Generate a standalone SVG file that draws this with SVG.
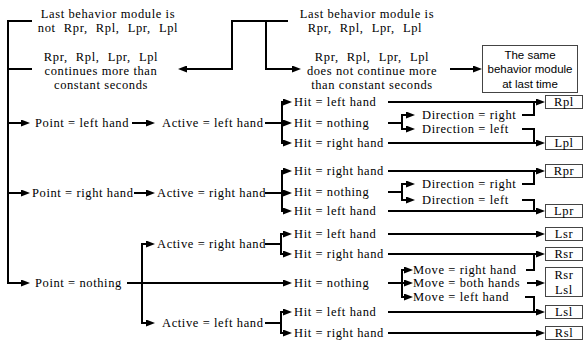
<svg xmlns="http://www.w3.org/2000/svg" width="585" height="349" viewBox="0 0 585 349">
<defs>
<marker id="ah" markerUnits="userSpaceOnUse" markerWidth="9" markerHeight="7" refX="6" refY="3.5" orient="auto-start-reverse"><path d="M0,0 L9,3.5 L0,7 z" fill="#000"/></marker>
</defs>
<style>
.t{font-family:"Liberation Serif","Times New Roman",serif;font-size:12.5px;letter-spacing:0.6px;fill:#000}
.m{text-anchor:middle}
.w{word-spacing:4.5px}
.s{font-family:"Liberation Sans",Arial,sans-serif;font-size:11.5px;fill:#000;text-anchor:middle}
.c{fill:none;stroke:#000;stroke-width:2}
.a{marker-end:url(#ah)}
.d{marker-start:url(#ah);marker-end:url(#ah)}
.b{fill:#fff;stroke:#444;stroke-width:1}
</style>
<rect width="585" height="349" fill="#fff"/>
<g id="connectors">
<path class="c a" d="M32,21 H8 V283 H27"/>
<path class="c" d="M8,69 H32"/>
<path class="c a" d="M8,123 H27"/>
<path class="c a" d="M8,193 H27"/>
<path class="c a" d="M288,21 H232 V69 H181"/>
<path class="c a" d="M266,21 V69 H298"/>
<path class="c a" d="M450,69 H479"/>
<path class="c a" d="M132,123 H152"/>
<path class="c a" d="M265,123 H289"/>
<path class="c d" d="M289,102 H282 V143 H289"/>
<path class="c a" d="M134,193 H152"/>
<path class="c a" d="M265,193 H289"/>
<path class="c d" d="M289,171 H282 V211 H289"/>
<path class="c a" d="M127,283 H289"/>
<path class="c d" d="M152,244 H142 V323 H152"/>
<path class="c" d="M265,244 H281"/>
<path class="c d" d="M289,234 H281 V254 H289"/>
<path class="c" d="M265,323 H281"/>
<path class="c d" d="M289,312 H281 V333 H289"/>
<path class="c a" d="M388,102 H542"/>
<path class="c" d="M388,123 H402"/>
<path class="c d" d="M412,115 H402 V129 H412"/>
<path class="c" d="M522,115 H534 V102"/>
<path class="c" d="M522,129 H534 V143"/>
<path class="c a" d="M388,143 H542"/>
<path class="c a" d="M388,171 H542"/>
<path class="c" d="M388,192 H402"/>
<path class="c d" d="M412,184 H402 V200 H412"/>
<path class="c" d="M522,184 H534 V171"/>
<path class="c" d="M522,200 H534 V211"/>
<path class="c a" d="M388,211 H542"/>
<path class="c a" d="M388,234 H542"/>
<path class="c a" d="M388,254 H542"/>
<path class="c" d="M388,283 H402"/>
<path class="c d" d="M410,270 H402 V297 H410"/>
<path class="c a" d="M402,283 H410"/>
<path class="c" d="M526,270 H534 V254"/>
<path class="c a" d="M527,283 H542"/>
<path class="c" d="M525,297 H534 V312"/>
<path class="c a" d="M388,312 H542"/>
<path class="c a" d="M388,333 H542"/>
</g>
<g id="last-not">
<text class="t m" x="108" y="18">Last behavior module is</text>
<text class="t m w" x="108" y="32">not Rpr, Rpl, Lpr, Lpl</text>
</g>
<g id="continues">
<text class="t m w" x="101" y="61">Rpr, Rpl, Lpr, Lpl</text>
<text class="t m" x="101" y="75">continues more than</text>
<text class="t m" x="101" y="89">constant seconds</text>
</g>
<g id="last-is">
<text class="t m" x="367" y="18">Last behavior module is</text>
<text class="t m w" x="365" y="32">Rpr, Rpl, Lpr, Lpl</text>
</g>
<g id="not-continue">
<text class="t m w" x="372" y="61">Rpr, Rpl, Lpr, Lpl</text>
<text class="t m" x="372" y="75">does not continue more</text>
<text class="t m" x="372" y="89">than constant seconds</text>
</g>
<g id="same">
<rect class="b" x="482.5" y="45.5" width="95" height="47"/>
<text class="s" x="530" y="59">The same</text>
<text class="s" x="530" y="73">behavior module</text>
<text class="s" x="530" y="88">at last time</text>
</g>
<g id="point-left"><text class="t" x="35" y="127">Point = left hand</text></g>
<g id="point-right"><text class="t" x="32" y="197">Point = right hand</text></g>
<g id="point-nothing"><text class="t" x="35" y="287">Point = nothing</text></g>
<g id="active-left-1"><text class="t" x="162" y="127">Active = left hand</text></g>
<g id="active-right-1"><text class="t" x="157" y="197">Active = right hand</text></g>
<g id="active-right-2"><text class="t" x="157" y="248">Active = right hand</text></g>
<g id="active-left-2"><text class="t" x="162" y="327">Active = left hand</text></g>
<g id="hit-1a"><text class="t" x="294" y="106">Hit = left hand</text></g>
<g id="hit-1b"><text class="t" x="294" y="127">Hit = nothing</text></g>
<g id="hit-1c"><text class="t" x="294" y="147">Hit = right hand</text></g>
<g id="dir-1r"><text class="t" x="422" y="119">Direction = right</text></g>
<g id="dir-1l"><text class="t" x="422" y="133">Direction = left</text></g>
<g id="hit-2a"><text class="t" x="294" y="175">Hit = right hand</text></g>
<g id="hit-2b"><text class="t" x="294" y="196">Hit = nothing</text></g>
<g id="hit-2c"><text class="t" x="294" y="215">Hit = left hand</text></g>
<g id="dir-2r"><text class="t" x="422" y="188">Direction = right</text></g>
<g id="dir-2l"><text class="t" x="422" y="204">Direction = left</text></g>
<g id="hit-3a"><text class="t" x="294" y="238">Hit = left hand</text></g>
<g id="hit-3b"><text class="t" x="294" y="258">Hit = right hand</text></g>
<g id="hit-3c"><text class="t" x="294" y="287">Hit = nothing</text></g>
<g id="hit-3d"><text class="t" x="294" y="316">Hit = left hand</text></g>
<g id="hit-3e"><text class="t" x="294" y="337">Hit = right hand</text></g>
<g id="move-r"><text class="t" x="413" y="274">Move = right hand</text></g>
<g id="move-b"><text class="t" x="413" y="287">Move = both hands</text></g>
<g id="move-l"><text class="t" x="413" y="301">Move = left hand</text></g>
<g id="box-rpl"><rect class="b" x="545.5" y="95.5" width="37" height="13"/><text class="t m" x="564" y="106">Rpl</text></g>
<g id="box-lpl"><rect class="b" x="545.5" y="136.5" width="37" height="13"/><text class="t m" x="564" y="147">Lpl</text></g>
<g id="box-rpr"><rect class="b" x="545.5" y="164.5" width="37" height="13"/><text class="t m" x="564" y="175">Rpr</text></g>
<g id="box-lpr"><rect class="b" x="545.5" y="204.5" width="37" height="13"/><text class="t m" x="564" y="215">Lpr</text></g>
<g id="box-lsr"><rect class="b" x="545.5" y="227.5" width="37" height="13"/><text class="t m" x="564" y="238">Lsr</text></g>
<g id="box-rsr"><rect class="b" x="545.5" y="247.5" width="37" height="13"/><text class="t m" x="564" y="258">Rsr</text></g>
<g id="box-rsr-lsl"><rect class="b" x="545.5" y="267.5" width="37" height="29"/><text class="t m" x="564" y="279">Rsr</text><text class="t m" x="564" y="294">Lsl</text></g>
<g id="box-lsl"><rect class="b" x="545.5" y="305.5" width="37" height="13"/><text class="t m" x="564" y="316">Lsl</text></g>
<g id="box-rsl"><rect class="b" x="545.5" y="326.5" width="37" height="13"/><text class="t m" x="564" y="337">Rsl</text></g>
</svg>
